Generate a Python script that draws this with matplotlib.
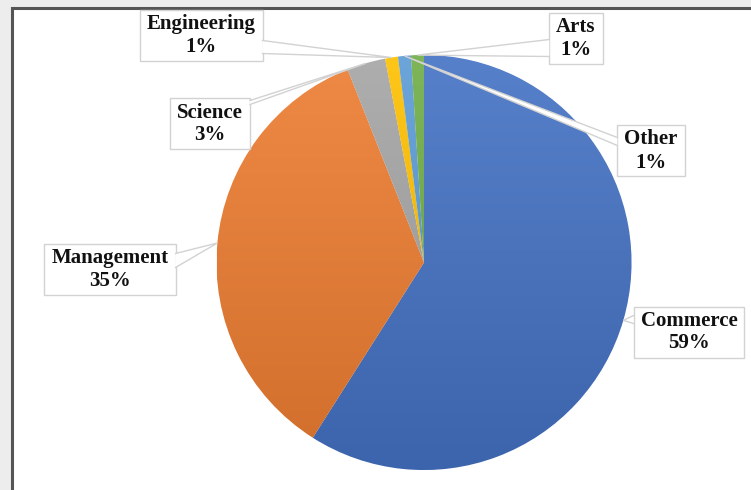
import numpy as np
import matplotlib.pyplot as plt
from matplotlib.patches import Rectangle, Polygon
from matplotlib.colors import to_rgb

# Data
categories = ['Commerce', 'Management', 'Science', 'Engineering', 'Other', 'Arts']
shares = [59, 35, 3, 1, 1, 1]
colors = ['#4472C4', '#ED7D31', '#A5A5A5', '#FFC000', '#5B9BD5', '#70AD47']

W, H = 751, 490
CX, CY, R = 424, 262.5, 207.5          # pie centre / radius in pixel coords

# label box centres (pixel coords, y down) and which side the pointer leaves from
label_pos = {
    'Commerce':    (689, 332, 'left'),
    'Management':  (110, 270, 'right'),
    'Science':     (210, 124, 'right'),
    'Engineering': (201, 36, 'right'),
    'Other':       (651, 151, 'left'),
    'Arts':        (576, 39, 'left'),
}
# pointer base offsets along the box edge (px from box top)
base_span = {
    'Commerce': (9, 17), 'Management': (9, 23), 'Science': (2, 6),
    'Engineering': (30, 43), 'Other': (12, 20), 'Arts': (26, 43),
}


def py(y):
    # pixel y (down) -> data y (up)
    return H - y


def shade(c, f):
    c = np.array(to_rgb(c))
    if f > 0:
        return c + (1 - c) * f
    return c * (1 + f)


fig = plt.figure(figsize=(W / 100, H / 100), dpi=100)
fig.patch.set_facecolor('#ededed')
ax = fig.add_axes([0, 0, 1, 1])

wedges, _ = ax.pie(shares, colors=colors, startangle=90, counterclock=False,
                   center=(CX, py(CY)), radius=R,
                   wedgeprops=dict(edgecolor='white', linewidth=0.6))

ax.set_xlim(0, W)
ax.set_ylim(0, H)
ax.set_aspect('equal')
ax.axis('off')

# chart area: white with dark border on top and left
ax.add_patch(Rectangle((12, -5), W, py(8) + 5, facecolor='white',
                       edgecolor='#555555', linewidth=2.2, zorder=0))

# soft vertical gradient on each slice
grad = np.linspace(0, 1, 256)[:, None]
for w, c in zip(wedges, colors):
    top, bot = shade(c, 0.10), shade(c, -0.12)
    img = top[None, None, :] * (1 - grad[..., None]) + bot[None, None, :] * grad[..., None]
    img = np.repeat(img, 2, axis=1)
    im = ax.imshow(img, extent=(CX - R, CX + R, py(CY + R), py(CY - R)),
                   origin='upper', zorder=w.get_zorder() + 0.1, aspect='auto')
    im.set_clip_path(w)

ax.set_xlim(0, W)
ax.set_ylim(0, H)

font = dict(family=['Liberation Serif', 'DejaVu Serif'], weight='bold', size=15, color='#111111')
edge = '#d2d2d2'

fig.canvas.draw()
renderer = fig.canvas.get_renderer()
to_data = ax.transData.inverted()

for w, name, val in zip(wedges, categories, shares):
    lx, ly, side = label_pos[name]
    t = ax.text(lx, py(ly), f'{name}\n{val}%', ha='center', va='center',
                linespacing=1.2, zorder=6, **font)
    bb = t.get_window_extent(renderer).transformed(to_data)
    padx, pady = 7, 4
    x0, x1 = bb.x0 - padx, bb.x1 + padx
    y0, y1 = bb.y0 - pady, bb.y1 + pady
    ax.add_patch(Rectangle((x0, y0), x1 - x0, y1 - y0, facecolor='white',
                           edgecolor=edge, linewidth=1.0, zorder=4))
    # pointer tip at the middle of the slice's outer edge
    ang = np.radians((w.theta1 + w.theta2) / 2)
    tip = (CX + R * np.cos(ang), py(CY) + R * np.sin(ang))
    ex = x0 if side == 'left' else x1
    b1, b2 = base_span[name]
    p1 = (ex, y1 - b1)
    p2 = (ex, y1 - b2)
    ax.add_patch(Polygon([p1, tip, p2], closed=True, facecolor='white',
                         edgecolor='none', zorder=5))
    ax.plot([p1[0], tip[0], p2[0]], [p1[1], tip[1], p2[1]], color=edge,
            linewidth=1.0, zorder=5, solid_joinstyle='miter')

fig.savefig('out.png', dpi=100, facecolor=fig.get_facecolor())
